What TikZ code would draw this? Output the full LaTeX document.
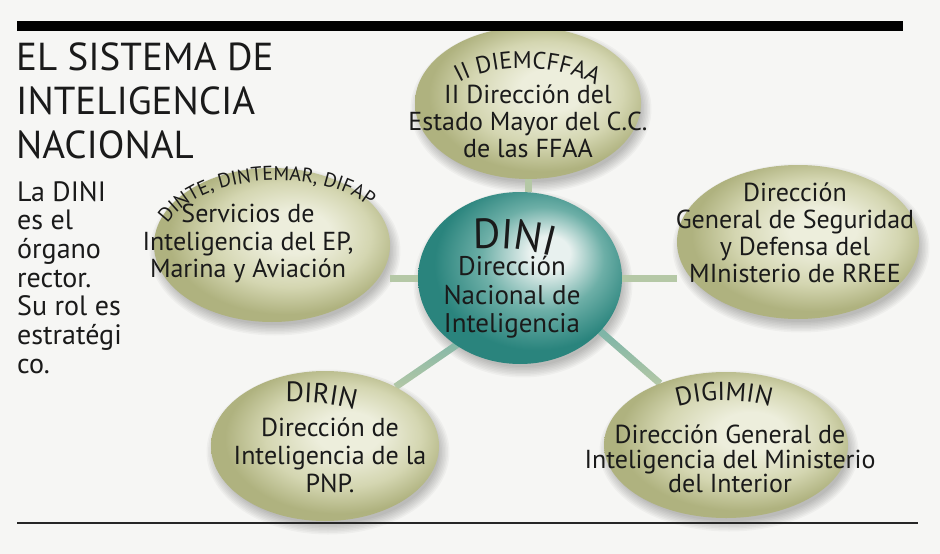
\documentclass[tikz,border=0pt]{standalone}
\usepackage{fontspec}
\setmainfont{PT Sans}
\usetikzlibrary{shapes.geometric,decorations.text,calc}
\pgfdeclarelayer{bottom}
\pgfdeclarelayer{background}
\pgfsetlayers{bottom,background,main}
\definecolor{bg}{HTML}{F6F6F4}
\definecolor{olhi}{HTML}{EDEEDC}
\definecolor{olmid}{HTML}{D4D6B1}
\definecolor{oledge}{HTML}{AFB27F}
\definecolor{tlhi}{HTML}{E8F1EF}
\definecolor{tlmid}{HTML}{6DAFA7}
\definecolor{tledge}{HTML}{2A847D}
\definecolor{connc}{HTML}{B5C8A6}
\definecolor{txt}{HTML}{1A1A1A}
\pgfdeclareradialshading{oliveshade}{\pgfpoint{6bp}{5bp}}{color(0bp)=(olhi); color(7bp)=(olhi); color(17bp)=(olmid); color(25bp)=(oledge); color(50bp)=(oledge)}
\pgfdeclareradialshading{tealshade}{\pgfpoint{8bp}{8bp}}{color(0bp)=(tlhi); color(5bp)=(tlhi); color(15bp)=(tlmid); color(25bp)=(tledge); color(50bp)=(tledge)}
\newcommand\ellshade[3]{%
  \foreach \k in {0,...,7}{\fill[black,opacity=0.03] ([shift={(3,6)}]#1.center) ellipse [x radius={#2-3+\k*1.5}, y radius={#3-3+\k*1.5}];}}
\begin{document}
\begin{tikzpicture}[x=1pt,y=-1pt,
  conn/.style={draw=connc, line width=7pt},
  oval/.style={ellipse, inner sep=0pt, shading=oliveshade},
  lbl/.style={inner sep=0pt, text=txt, align=center, anchor=north, font=\fontsize{26}{27}\selectfont},
  arch/.style={decorate, decoration={text along path, text align=center, text color=txt, text={#1}}}
]
\useasboundingbox (0,0) rectangle (940,554);
\begin{pgfonlayer}{bottom}
\fill[bg] (0,0) rectangle (940,554);
\end{pgfonlayer}

% ellipses
\node[oval, minimum width=226pt, minimum height=152pt] (top) at (528,103) {};
\node[oval, minimum width=236pt, minimum height=154pt] (lefte) at (272,245) {};
\node[oval, minimum width=242pt, minimum height=154pt] (righte) at (798,242) {};
\node[oval, minimum width=228pt, minimum height=150pt] (dirin) at (325,446) {};
\node[oval, minimum width=244pt, minimum height=146pt] (digimin) at (726,445) {};
\node[ellipse, inner sep=0pt, shading=tealshade, minimum width=204pt, minimum height=172pt] (dini) at (520,278) {};

\coordinate (dsw) at (490,322);
\coordinate (dse) at (585,318);

\begin{pgfonlayer}{background}
\ellshade{top}{113}{76}
\ellshade{lefte}{118}{77}
\ellshade{righte}{121}{77}
\ellshade{dirin}{114}{75}
\ellshade{digimin}{122}{73}
\ellshade{dini}{102}{86}
\draw[conn] (top.south) -- (top.south |- dini.north);
\draw[conn] (dini.west) -- (dini.west -| lefte.east);
\draw[conn] (dini.east) -- (dini.east -| righte.west);
\shade[top color=tlmid, bottom color=connc] ($(dsw)!3.5pt!90:(dirin.40)$) -- ($(dirin.40)!3.5pt!-90:(dsw)$) -- ($(dirin.40)!3.5pt!90:(dsw)$) -- ($(dsw)!3.5pt!-90:(dirin.40)$) -- cycle;
\shade[top color=tlmid, bottom color=connc] ($(dse)!3.5pt!90:(digimin.137)$) -- ($(digimin.137)!3.5pt!-90:(dse)$) -- ($(digimin.137)!3.5pt!90:(dse)$) -- ($(dse)!3.5pt!-90:(digimin.137)$) -- cycle;
\end{pgfonlayer}

% rules
\fill[black] (17,21) rectangle (903,31);
\draw[line width=1.6pt, color=black!85] (17,523) -- (918,523);

% title and side text
\node[anchor=north west, inner sep=0pt, text=txt, align=left, font=\fontsize{39}{44}\selectfont] (title) at (16,43) {EL SISTEMA DE\\INTELIGENCIA\\NACIONAL};
\node[anchor=north west, inner sep=0pt, text=txt, align=left, font=\fontsize{28}{28.7}\selectfont] (desc) at (17,181) {La DINI\\es el\\órgano\\rector.\\Su rol es\\estratégi\\co.};

% ellipse texts
\node[lbl] (topT) at (528,85) {II Dirección del\\Estado Mayor del C.C.\\de las FFAA};
\node[lbl] (rightT) at (795,183) {Dirección\\General de Seguridad\\y Defensa del\\MInisterio de RREE};
\node[lbl, font=\fontsize{26}{27.5}\selectfont] (leftT) at (248,204) {Servicios de\\Inteligencia del EP,\\Marina y Aviación};
\node[lbl, font=\fontsize{26}{28}\selectfont] (dirinT) at (330,418) {Dirección de\\Inteligencia de la\\PNP.};
\node[lbl, font=\fontsize{26}{24.5}\selectfont] (digiminT) at (730,425) {Dirección General de\\Inteligencia del Ministerio\\del Interior};
\node[lbl, font=\fontsize{27}{28.5}\selectfont] (diniT) at (512,256) {Dirección\\Nacional de\\Inteligencia};

% arched labels
\path[arch={|\fontsize{24}{24}\selectfont|II DIEMCFFAA}] (442,96) .. controls (474,58) and (578,58) .. (612,100);
\path[arch={|\fontsize{20}{20}\selectfont|DINTE, DINTEMAR, DIFAP}] (158,244) .. controls (178,163) and (352,163) .. (384,224);
\path[arch={|\fontsize{42}{42}\selectfont|DINI}] (455,250) .. controls (485,247) and (525,245) .. (570,262);
\path[arch={|\fontsize{28}{28}\selectfont|DIRIN}] (270,402) .. controls (300,402) and (330,400) .. (370,414);
\path[arch={|\fontsize{26}{26}\selectfont|DIGIMIN}] (660,414) .. controls (695,396) and (752,396) .. (788,414);
\end{tikzpicture}
\end{document}
